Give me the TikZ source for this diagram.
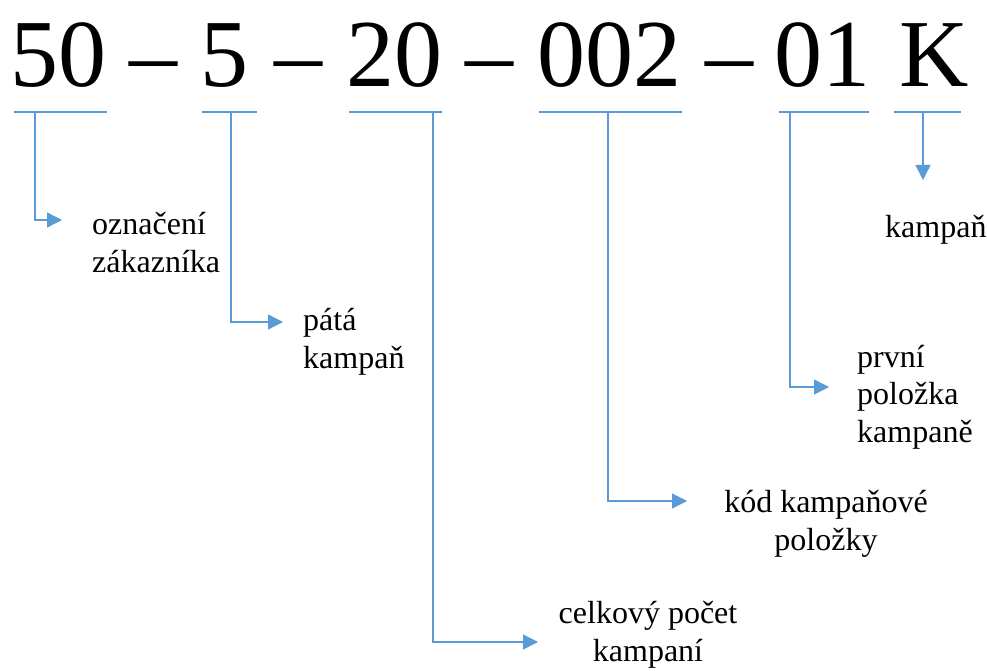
\documentclass[tikz,border=0pt]{standalone}
\usepackage{fontspec}
\setmainfont{Liberation Serif}
\usetikzlibrary{arrows.meta}
\definecolor{linkblue}{HTML}{5B9BD5}
\begin{document}
\begin{tikzpicture}[x=1pt,y=-1pt,
  codepart/.style={inner sep=0pt,anchor=base,font=\fontsize{96}{116}\selectfont},
  tag/.style={inner sep=0pt,font=\fontsize{32}{37.5}\selectfont},
  uline/.style={draw=linkblue,line width=1.3pt},
  conn/.style={draw=linkblue,line width=1.3pt,-{Triangle[length=15pt,width=15pt]}}]
\useasboundingbox (0,0) rectangle (987,671);

% the code, piece by piece
\node[codepart] (p50) at (58,87) {50};
\node[codepart] (d1)  at (153,87) {–};
\node[codepart] (p5)  at (224,87) {5};
\node[codepart] (d2)  at (298,87) {–};
\node[codepart] (p20) at (394,87) {20};
\node[codepart] (d3)  at (489,87) {–};
\node[codepart] (p002) at (609,87) {002};
\node[codepart] (d4)  at (729,87) {–};
\node[codepart] (p01) at (822,87) {01};
\node[codepart] (pK)  at (934,87) {K};

% underlines with their branching points
\coordinate (u50a) at (14,112);  \coordinate (u50b) at (107,112);  \coordinate (u50) at (35,112);
\coordinate (u5a) at (202,112);  \coordinate (u5b) at (257,112);   \coordinate (u5) at (231,112);
\coordinate (u20a) at (349,112); \coordinate (u20b) at (442,112);  \coordinate (u20) at (433,112);
\coordinate (u002a) at (539,112); \coordinate (u002b) at (682,112); \coordinate (u002) at (608,112);
\coordinate (u01a) at (779,112); \coordinate (u01b) at (869,112);  \coordinate (u01) at (790,112);
\coordinate (uKa) at (894,112);  \coordinate (uKb) at (961,112);   \coordinate (uK) at (923,112);
\foreach \u in {50,5,20,002,01,K}
  \draw[uline] (u\u a) -- (u\u b);

% arrow tips
\coordinate (t50) at (62,220);
\coordinate (t5) at (283,322);
\coordinate (t20) at (538,642);
\coordinate (t002) at (687,501);
\coordinate (t01) at (829,387);
\coordinate (tK) at (923,180);

% labels (base anchor = baseline of the last line)
\node[tag,anchor=base west,align=left] (l50) at (92,272) {označení\\zákazníka};
\node[tag,anchor=base west,align=left] (l5) at (303,368) {pátá\\kampaň};
\node[tag,anchor=base,align=center] (l20) at (648,661) {celkový počet\\kampaní};
\node[tag,anchor=base,align=center] (l002) at (826,550) {kód kampaňové\\položky};
\node[tag,anchor=base west,align=left] (l01) at (857,442) {první\\položka\\kampaně};
\node[tag,anchor=base west] (lK) at (885,237) {kampaň};

% connectors
\draw[conn] (u50) |- (t50);
\draw[conn] (u5) |- (t5);
\draw[conn] (u20) |- (t20);
\draw[conn] (u002) |- (t002);
\draw[conn] (u01) |- (t01);
\draw[conn] (uK) -- (tK);
\end{tikzpicture}
\end{document}
